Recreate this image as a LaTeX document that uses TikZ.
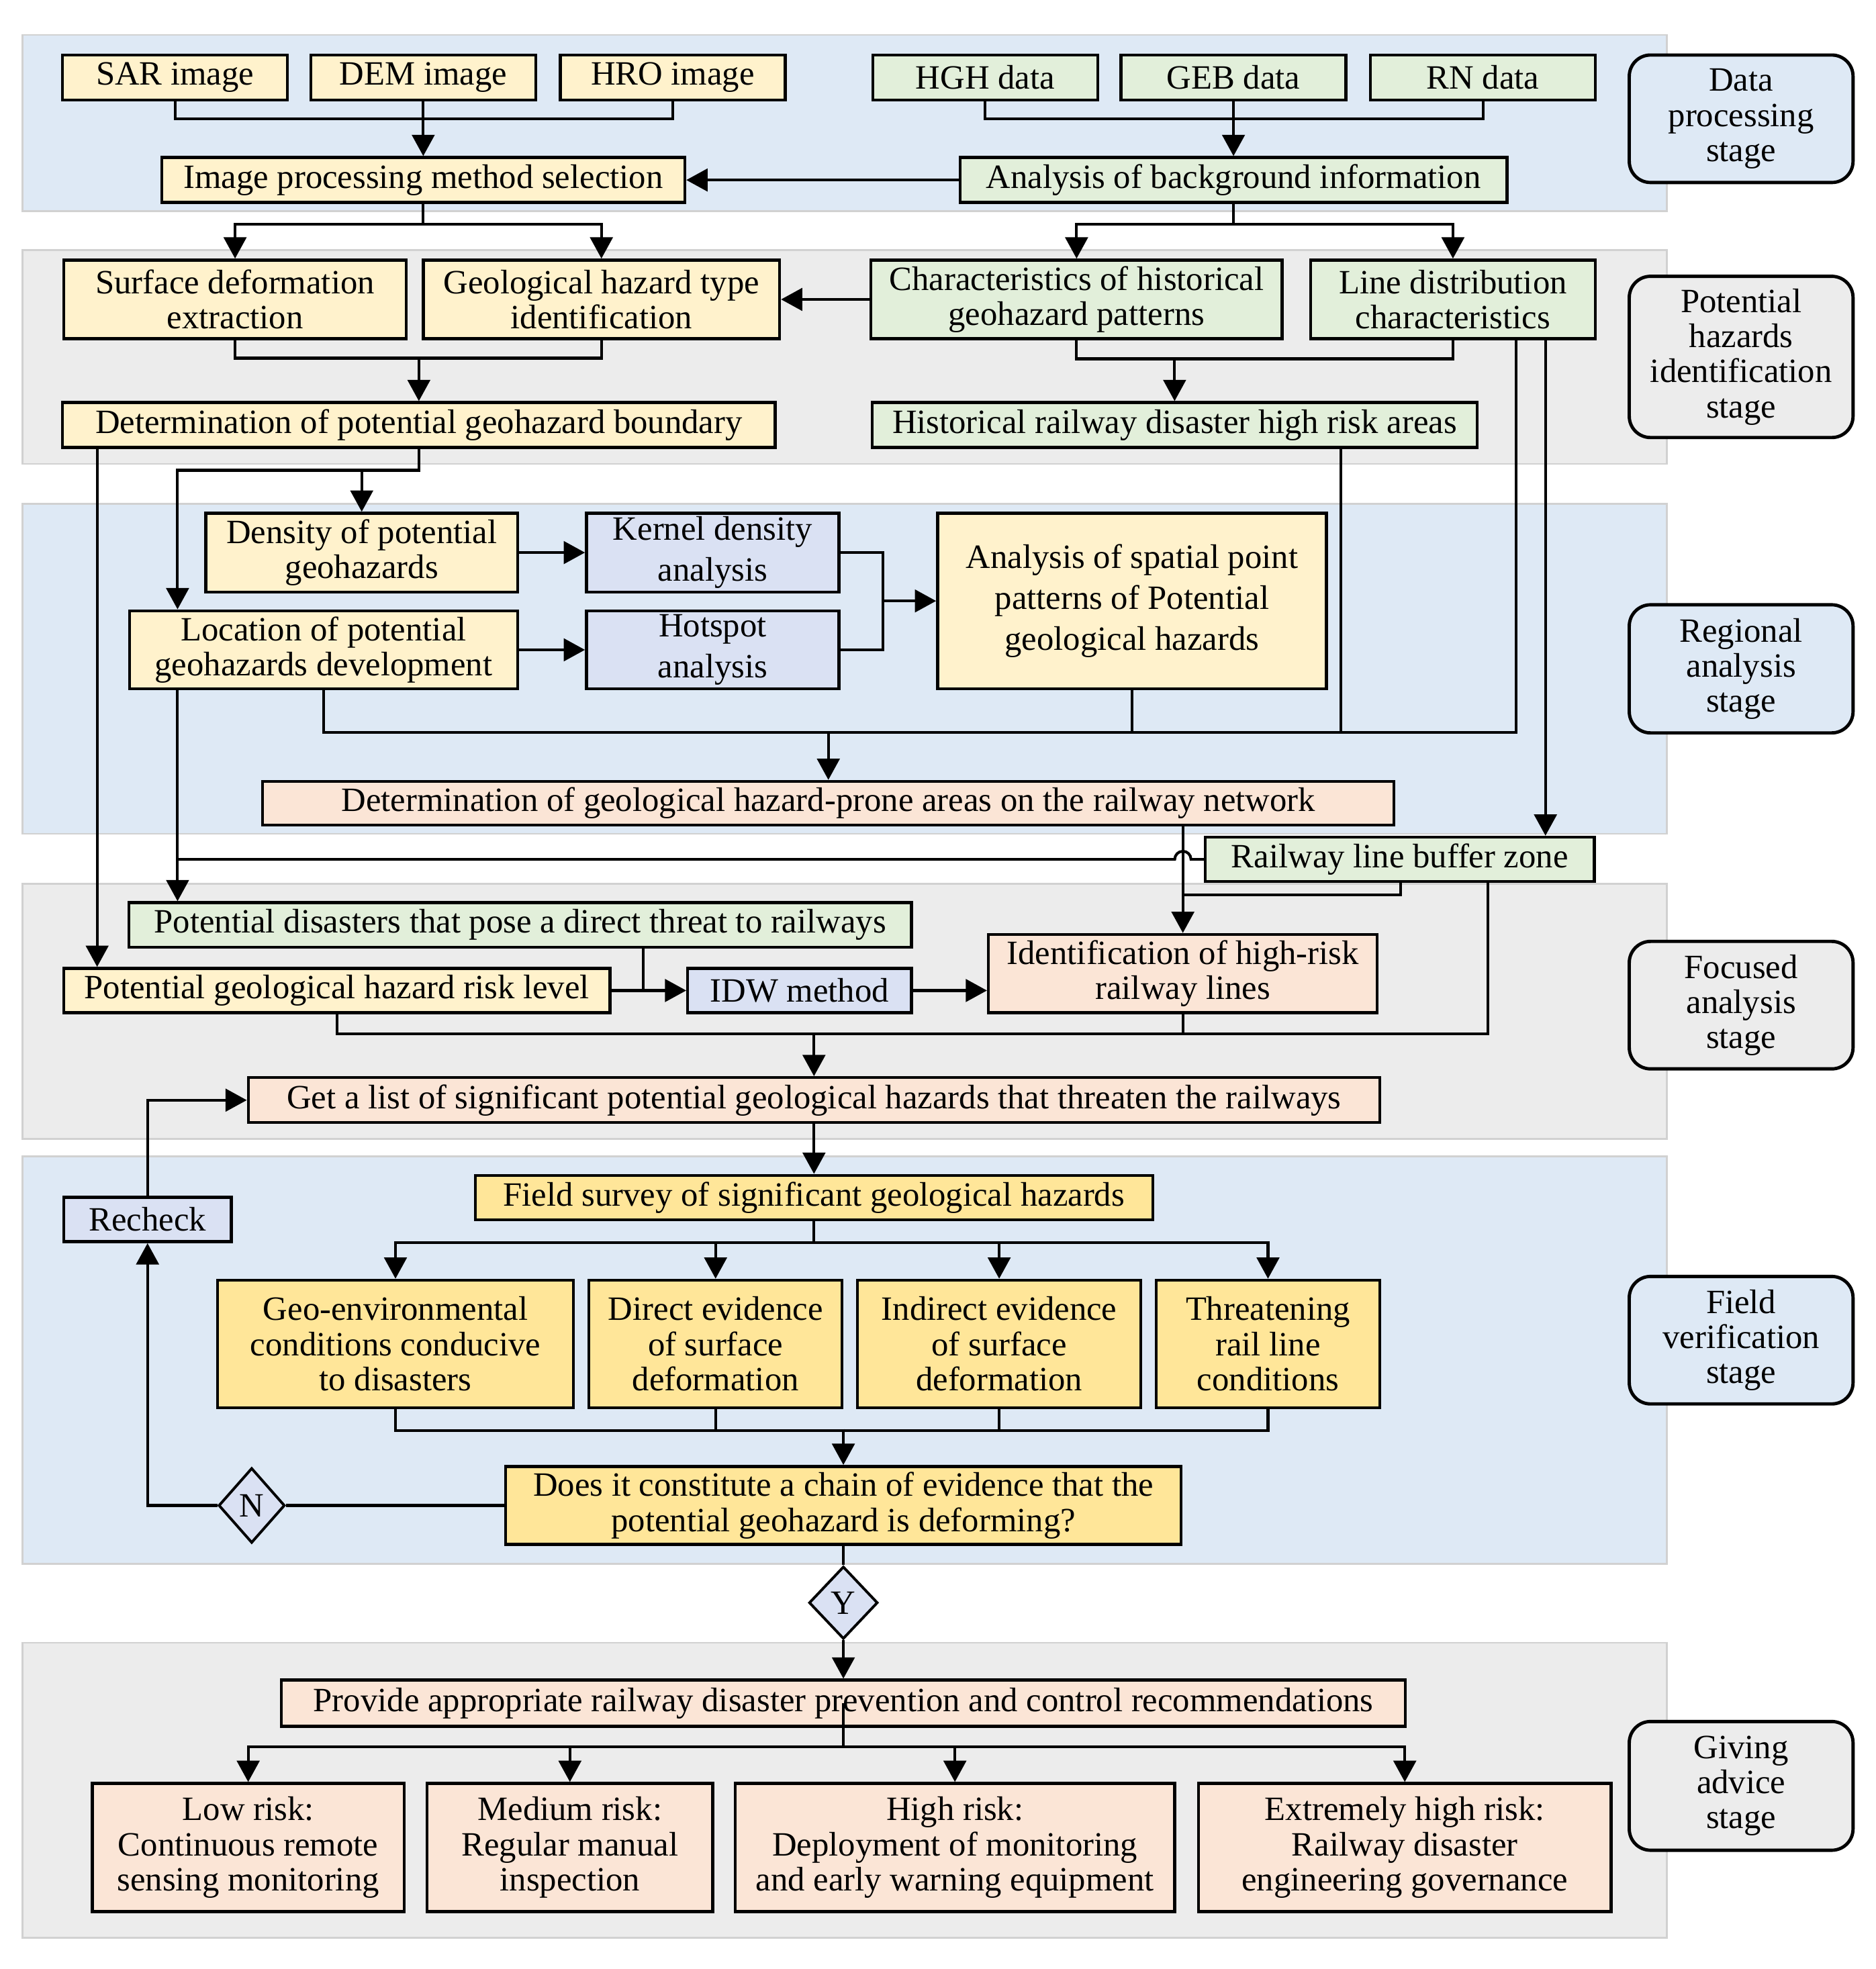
\documentclass[tikz,border=0pt]{standalone}
\usepackage{fontspec}
\setmainfont{Liberation Serif}
\usepackage{tikz}
\usetikzlibrary{shapes.geometric, arrows.meta, positioning}
\definecolor{bandblue}{RGB}{222,233,245}
\definecolor{bandgray}{RGB}{236,236,236}
\definecolor{datacream}{RGB}{255,242,204}
\definecolor{datagreen}{RGB}{226,239,218}
\definecolor{methodblue}{RGB}{218,225,243}
\definecolor{resultpeach}{RGB}{251,229,214}
\definecolor{fieldyellow}{RGB}{255,230,153}
\newcommand{\boxfont}{\fontsize{15.5}{16}\selectfont}
\newcommand{\loosefont}{\fontsize{15.5}{18.7}\selectfont}

\begin{document}
\begin{tikzpicture}[x=0.02cm, y=-0.02cm]
    % Styles
    \tikzstyle{band} = [draw=black!18, line width=0.8pt]
    \tikzstyle{block} = [rectangle, draw=black, line width=1.35pt, inner sep=0pt,
        align=center, font=\boxfont]
    \tikzstyle{cream} = [block, fill=datacream]
    \tikzstyle{green} = [block, fill=datagreen]
    \tikzstyle{method} = [block, fill=methodblue]
    \tikzstyle{result} = [block, fill=resultpeach]
    \tikzstyle{field} = [block, fill=fieldyellow]
    \tikzstyle{stagebox} = [rectangle, rounded corners=0.34cm, draw=black, line width=1.5pt,
        inner sep=0pt, align=center, font=\boxfont, minimum width=3.58cm]
    \tikzstyle{decision} = [diamond, draw=black, line width=1.2pt, fill=methodblue,
        inner sep=0pt, font=\boxfont]
    \tikzstyle{line} = [line width=1.25pt]
    \tikzstyle{arrow} = [line width=1.25pt, -{Triangle[length=3.4mm, width=3.6mm]}]

    \useasboundingbox (0,0) rectangle (1500,1575);

    % Stage bands
    \draw [band, fill=bandblue] (18,28) rectangle (1333,169);
    \draw [band, fill=bandgray] (18,200) rectangle (1333,371);
    \draw [band, fill=bandblue] (18,403) rectangle (1333,667);
    \draw [band, fill=bandgray] (18,707) rectangle (1333,911);
    \draw [band, fill=bandblue] (18,925) rectangle (1333,1251);
    \draw [band, fill=bandgray] (18,1314) rectangle (1333,1550);

    % Stage labels
    \node [stagebox, fill=bandblue, minimum height=2.04cm] (stdata) at (1392.5,95) {Data\\processing\\stage};
    \node [stagebox, fill=bandgray, minimum height=2.58cm] (stident) at (1392.5,285.5) {Potential\\hazards\\identification\\stage};
    \node [stagebox, fill=bandblue, minimum height=2.05cm] (stregion) at (1392.5,535) {Regional\\analysis\\stage};
    \node [stagebox, fill=bandgray, minimum height=2.04cm] (stfocus) at (1392.5,804) {Focused\\analysis\\stage};
    \node [stagebox, fill=bandblue, minimum height=2.04cm] (stfield) at (1392.5,1072) {Field\\verification\\stage};
    \node [stagebox, fill=bandgray, minimum height=2.06cm] (stadvice) at (1392.5,1428.5) {Giving\\advice\\stage};

    % Nodes: data processing
    \node [cream, minimum width=3.6cm, minimum height=0.72cm] (sar) at (140,62) {SAR image};
    \node [cream, minimum width=3.6cm, minimum height=0.72cm] (dem) at (338.5,62) {DEM image};
    \node [cream, minimum width=3.6cm, minimum height=0.72cm] (hro) at (538,62) {HRO image};
    \node [green, minimum width=3.6cm, minimum height=0.72cm] (hgh) at (788,62) {HGH data};
    \node [green, minimum width=3.6cm, minimum height=0.72cm] (geb) at (986.5,62) {GEB data};
    \node [green, minimum width=3.6cm, minimum height=0.72cm] (rn) at (1186,62) {RN data};
    \node [cream, minimum width=8.37cm, minimum height=0.72cm] (imgsel) at (338.5,144) {Image processing method selection};
    \node [green, minimum width=8.75cm, minimum height=0.72cm] (bgana) at (986.5,144) {Analysis of background information};

    % Nodes: potential hazards identification
    \node [cream, minimum width=5.48cm, minimum height=1.26cm] (surf) at (188,239.5) {Surface deformation\\extraction};
    \node [cream, minimum width=5.7cm, minimum height=1.26cm] (gtype) at (481,239.5) {Geological hazard type\\identification};
    \node [green, minimum width=6.58cm, minimum height=1.26cm] (hist) at (861,239.5) {Characteristics of historical\\geohazard patterns};
    \node [green, minimum width=4.55cm, minimum height=1.26cm] (linedist) at (1162,239.5) {Line distribution\\characteristics};
    \node [cream, minimum width=11.4cm, minimum height=0.72cm] (bound) at (335,340) {Determination of potential geohazard boundary};
    \node [green, minimum width=9.68cm, minimum height=0.72cm] (hrisk) at (939.4,340) {Historical railway disaster high risk areas};

    % Nodes: regional analysis
    \node [cream, minimum width=4.99cm, minimum height=1.26cm] (dens) at (289.3,442) {Density of potential\\geohazards};
    \node [method, font=\loosefont, minimum width=4.04cm, minimum height=1.26cm] (kern) at (570,442) {Kernel density\\analysis};
    \node [cream, minimum width=6.21cm, minimum height=1.25cm] (loc) at (258.8,519.8) {Location of potential\\geohazards development};
    \node [method, font=\loosefont, minimum width=4.04cm, minimum height=1.25cm] (hot) at (570,519.8) {Hotspot\\analysis};
    \node [cream, font=\loosefont, minimum width=6.22cm, minimum height=2.81cm] (spat) at (905.3,480.7) {Analysis of spatial point\\patterns of Potential\\geological hazards};
    \node [result, minimum width=18.1cm, minimum height=0.7cm] (prone) at (662.5,642.5) {Determination of geological hazard-prone areas on the railway network};
    \node [green, minimum width=6.22cm, minimum height=0.71cm] (buf) at (1119.5,687.4) {Railway line buffer zone};

    % Nodes: focused analysis
    \node [green, minimum width=12.52cm, minimum height=0.71cm] (pdis) at (416,739.8) {Potential disasters that pose a direct threat to railways};
    \node [cream, minimum width=8.74cm, minimum height=0.71cm] (plevel) at (269.4,792.3) {Potential geological hazard risk level};
    \node [method, minimum width=3.58cm, minimum height=0.71cm] (idw) at (639.5,792.3) {IDW method};
    \node [result, minimum width=6.22cm, minimum height=1.25cm] (ident) at (946,778.7) {Identification of high-risk\\railway lines};
    \node [result, minimum width=18.1cm, minimum height=0.72cm] (getlist) at (651,880) {Get a list of significant potential geological hazards that threaten the railways};

    % Nodes: field verification
    \node [method, minimum width=2.68cm, minimum height=0.71cm] (recheck) at (118,975.5) {Recheck};
    \node [field, minimum width=10.84cm, minimum height=0.71cm] (survey) at (651,957.9) {Field survey of significant geological hazards};
    \node [field, minimum width=5.69cm, minimum height=2.04cm] (geo) at (316.3,1075) {Geo-environmental\\conditions conducive\\to disasters};
    \node [field, minimum width=4.05cm, minimum height=2.04cm] (direct) at (572.3,1075) {Direct evidence\\of surface\\deformation};
    \node [field, minimum width=4.53cm, minimum height=2.04cm] (indirect) at (799.1,1075) {Indirect evidence\\of surface\\deformation};
    \node [field, minimum width=3.58cm, minimum height=2.04cm] (threat) at (1014.1,1075) {Threatening\\rail line\\conditions};
    \node [field, minimum width=10.81cm, minimum height=1.25cm] (chain) at (674.5,1204.2) {Does it constitute a chain of evidence that the\\potential geohazard is deforming?};
    \node [decision, minimum width=1.06cm, minimum height=1.2cm] (ndia) at (201.3,1204.2) {N};
    \node [decision, minimum width=1.1cm, minimum height=1.16cm] (ydia) at (674.5,1282) {Y};

    % Nodes: giving advice
    \node [result, minimum width=17.98cm, minimum height=0.74cm] (provide) at (674.5,1362.4) {Provide appropriate railway disaster prevention and control recommendations};
    \node [result, minimum width=4.99cm, minimum height=2.05cm] (low) at (198.5,1477.8) {Low risk:\\Continuous remote\\sensing monitoring};
    \node [result, minimum width=4.57cm, minimum height=2.05cm] (med) at (455.8,1477.8) {Medium risk:\\Regular manual\\inspection};
    \node [result, minimum width=7.03cm, minimum height=2.05cm] (high) at (763.7,1477.8) {High risk:\\Deployment of monitoring\\and early warning equipment};
    \node [result, minimum width=6.6cm, minimum height=2.05cm] (ext) at (1123.5,1477.8) {Extremely high risk:\\Railway disaster\\engineering governance};

    % Guide coordinates
    \coordinate (gL) at (77.7,0);
    \coordinate (gLoc) at (142,0);
    \coordinate (gPdis) at (514.5,0);
    \coordinate (gId) at (946,0);
    \coordinate (gH) at (1072.5,0);
    \coordinate (gB1) at (1120,0);
    \coordinate (gB2) at (1190,0);
    \coordinate (gLd2) at (1236,0);
    \coordinate (mBound) at (335,286.5);
    \coordinate (mHist) at (939.4,287);
    \coordinate (mSpat) at (706,480.7);
    \coordinate (busA) at (1212.7,586);
    \coordinate (hopA) at (939.5,687.4);
    \coordinate (mBuf) at (946,715.7);
    \coordinate (busB) at (1190,827);
    \coordinate (mChain) at (674.5,1143);
    \coordinate (mProv) at (674.5,1397);

    % Arrows: data processing
    \draw [line] (sar.south) -- ++(0,14) -| (hro.south);
    \draw [arrow] (dem) -- (imgsel);
    \draw [line] (hgh.south) -- ++(0,14) -| (rn.south);
    \draw [arrow] (geb) -- (bgana);
    \draw [arrow] (bgana) -- (imgsel);

    % Arrows: potential hazards identification
    \draw [arrow] (imgsel.south) -- ++(0,16) -| (surf.north);
    \draw [arrow] (imgsel.south) -- ++(0,16) -| (gtype.north);
    \draw [arrow] (bgana.south) -- ++(0,16) -| (hist.north);
    \draw [arrow] (bgana.south) -- ++(0,16) -| (linedist.north);
    \draw [arrow] (hist) -- (gtype);
    \draw [line] (surf.south) |- (mBound) -| (gtype.south);
    \draw [arrow] (mBound) -- (bound);
    \draw [line] (hist.south) |- (mHist) -| (linedist.south);
    \draw [arrow] (mHist) -- (hrisk);

    % Arrows: regional analysis
    \draw [arrow] (bound.south -| gL) -- (plevel.north -| gL);
    \draw [arrow] (bound.south) -- ++(0,17) -| (dens.north);
    \draw [arrow] (bound.south) -- ++(0,17) -| (loc.north -| gLoc);
    \draw [arrow] (dens) -- (kern);
    \draw [arrow] (loc) -- (hot);
    \draw [line] (kern.east) -| (mSpat) |- (hot.east);
    \draw [arrow] (mSpat) -- (spat);
    \draw [line] (loc.south) |- (busA) -- (linedist.south -| busA);
    \draw [line] (spat.south) -- (spat.south |- busA);
    \draw [line] (hrisk.south -| gH) -- (gH |- busA);
    \draw [arrow] (prone.north |- busA) -- (prone.north);
    \draw [arrow] (linedist.south -| gLd2) -- (buf.north -| gLd2);

    % Arrows: focused analysis
    \draw [arrow] (loc.south -| gLoc) -- (pdis.north -| gLoc);
    \draw [line] (gLoc |- buf.west) -- (hopA) arc[start angle=180, end angle=0, radius=0.13cm] -- (buf.west);
    \draw [arrow] (prone.south -| gId) -- (ident.north);
    \draw [line] (buf.south -| gB1) |- (mBuf);
    \draw [line] (pdis.south -| gPdis) -- (gPdis |- plevel.east);
    \draw [arrow] (plevel) -- (idw);
    \draw [arrow] (idw.east) -- (idw.east -| ident.west);
    \draw [line] (plevel.south) |- (busB) -- (buf.south -| busB);
    \draw [line] (ident.south) -- (ident.south |- busB);
    \draw [arrow] (getlist.north |- busB) -- (getlist.north);

    % Arrows: field verification
    \draw [arrow] (getlist) -- (survey);
    \foreach \n in {geo, direct, indirect, threat}
        \draw [arrow] (survey.south) -- ++(0,17) -| (\n.north);
    \draw [line] (geo.south) -- ++(0,17) -| (threat.south);
    \draw [line] (direct.south) -- ++(0,17);
    \draw [line] (indirect.south) -- ++(0,17);
    \draw [arrow] (mChain) -- (chain);
    \draw [line] (chain) -- (ndia);
    \draw [arrow] (ndia.west) -| (recheck.south);
    \draw [arrow] (recheck.north) |- (getlist.west);
    \draw [line] (chain) -- (ydia);

    % Arrows: giving advice
    \draw [arrow] (ydia) -- (provide);
    \foreach \n in {low, med, high, ext}
        \draw [arrow] (provide.center) -- (mProv) -| (\n.north);
\end{tikzpicture}
\end{document}
